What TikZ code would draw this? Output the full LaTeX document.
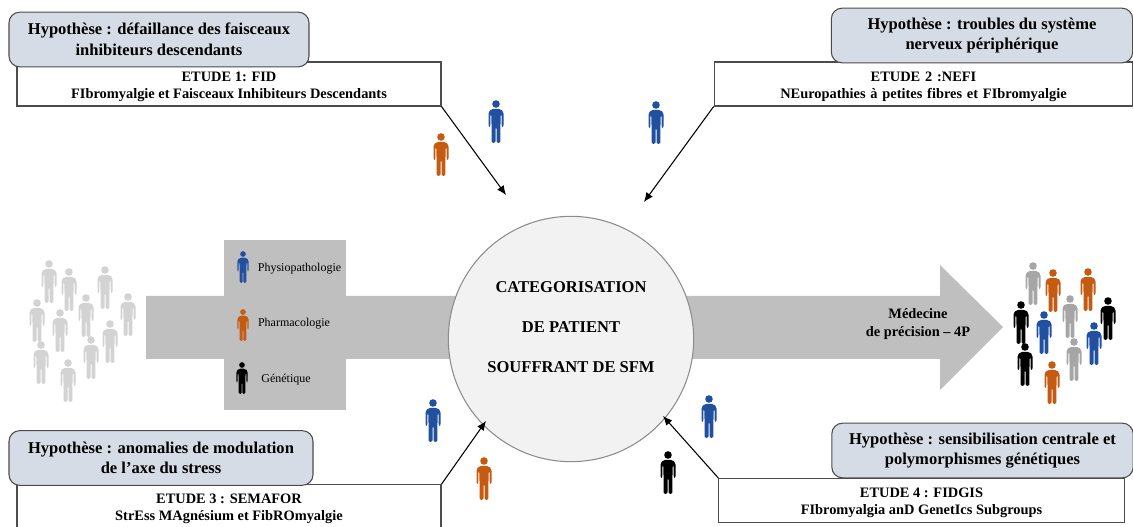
\documentclass[tikz,border=0pt]{standalone}
\usepackage{fontspec}
\setmainfont{Liberation Serif}
\usepackage{tikz}
\usetikzlibrary{arrows.meta}
\definecolor{pblue}{HTML}{2150A0}
\definecolor{porange}{HTML}{C55A11}
\definecolor{pgrey}{HTML}{A6A6A6}
\definecolor{plight}{HTML}{D3D3D3}
\definecolor{hypo}{HTML}{D6DCE5}
\definecolor{flow}{HTML}{BFBFBF}
\tikzstyle{hypothese} = [draw=black!70,thick,fill=hypo,rounded corners=8pt,align=center,inner sep=0pt,font=\fontsize{12.4}{15.5}\selectfont\bfseries]
\tikzstyle{etude} = [draw=black!70,thick,fill=white,align=center,inner sep=0pt,font=\fontsize{10.8}{13}\selectfont\bfseries]
\tikzstyle{soustype} = [font=\fontsize{9}{10}\selectfont]
\tikzset{person/.pic={
    \path[pic actions] (0,0) circle (3.8);
    \path[pic actions,rounded corners=1.2pt] (-4.5,5) -- (4.5,5) -- (7.5,8) -- (7.5,23) -- (5.7,23) -- (5.7,10) -- (4.8,10) -- (4.4,23)
        -- (4.4,39) -- (0.5,39) -- (0.5,23) -- (-0.5,23) -- (-0.5,39) -- (-4.4,39) -- (-4.4,23) -- (-4.8,10) -- (-5.7,10) -- (-5.7,23) -- (-7.5,23) -- (-7.5,8) -- cycle;
}}

\begin{document}
\begin{tikzpicture}[>={Latex[length=7pt,width=6pt]},x=0.75pt,y=-0.75pt]
    \useasboundingbox (0,0) rectangle (1133,527);

% Draw flow arrow and categories
    \fill[flow] (146,296) -- (940,296) -- (940,265) -- (1003,327) -- (940,390) -- (940,359) -- (146,359) -- cycle;
    \fill[flow] (224,240) rectangle (346,410);
    \node[font=\fontsize{10.8}{13.5}\selectfont\bfseries,align=center] at (918,324) (medecine) {Médecine\hspace{10pt}\\de précision -- 4P};
    \node[soustype] at (299.5,269) (physio) {Physiopathologie};
    \node[soustype] at (294,324) (pharma) {Pharmacologie};
    \node[soustype] at (286,380) (gene) {Génétique};
    \pic[fill=pblue,scale=.75] at (243,254) {person};
    \pic[fill=porange,scale=.75] at (243,312) {person};
    \pic[fill=black,scale=.75] at (242,365) {person};

    \node[circle,draw=black!45,thick,fill=black!5,minimum size=184pt,inner sep=0pt] at (571,339) (categ) {};
    \node[font=\fontsize{12.4}{30}\selectfont\bfseries,align=center] at (571,327) (categtxt) {CATEGORISATION\\DE PATIENT\\SOUFFRANT DE SFM};

% Hypotheses and studies
    \node[etude,minimum width=318pt,minimum height=33pt] at (229,84) (etude1) {\rule{0pt}{11pt}ETUDE 1: FID\\FIbromyalgie et Faisceaux Inhibiteurs Descendants};
    \node[hypothese,minimum width=225pt,minimum height=41pt] at (159,39.5) (hypo1) {Hypothèse : défaillance des faisceaux\\inhibiteurs descendants};
    \node[etude,minimum width=314pt,minimum height=33pt,text width=310pt] at (923.5,84) (etude2) {\rule{0pt}{11pt}ETUDE 2 :NEFI\hspace{4pt}\\NEuropathies à petites fibres et FIbromyalgie\hspace{4pt}};
    \node[hypothese,minimum width=226pt,minimum height=41pt] at (982,35.5) (hypo2) {Hypothèse : troubles du système\\nerveux périphérique};
    \node[etude,minimum width=318pt,minimum height=32pt] at (229,506) (etude3) {\rule{0pt}{11pt}ETUDE 3 : SEMAFOR\\StrEss MAgnésium et FibROmyalgie};
    \node[hypothese,minimum width=228pt,minimum height=41pt] at (161,458) (hypo3) {Hypothèse : anomalies de modulation\\de l’axe du stress};
    \node[etude,minimum width=304pt,minimum height=33pt] at (921.5,500.5) (etude4) {\rule{0pt}{11pt}ETUDE 4 : FIDGIS\\FIbromyalgia anD GenetIcs Subgroups};
    \node[hypothese,minimum width=226pt,minimum height=41pt] at (982.5,450.5) (hypo4) {Hypothèse : sensibilisation centrale et\\polymorphismes génétiques};

    \coordinate (fin1) at (506,195);
    \coordinate (fin2) at (644,202);
    \coordinate (fin3) at (486,421);
    \coordinate (fin4) at (663,416);
    \draw[->,thick] (etude1.south east) -- (fin1);
    \draw[->,thick] (etude2.south west) -- (fin2);
    \draw[->,thick] (etude3.north east) -- (fin3);
    \draw[->,thick] (etude4.north west) -- (fin4);

% People next to the arrows
    \pic[fill=pblue] at (496,104) {person};
    \pic[fill=porange] at (441,137) {person};
    \pic[fill=pblue] at (656,105) {person};
    \pic[fill=pblue] at (433,403) {person};
    \pic[fill=porange] at (484,461) {person};
    \pic[fill=pblue] at (709,399) {person};
    \pic[fill=black] at (668,455) {person};

% Crowd on the left
    \pic[fill=plight] at (49,264) {person};
    \pic[fill=plight] at (69,272) {person};
    \pic[fill=plight] at (105,270) {person};
    \pic[fill=plight] at (37,303) {person};
    \pic[fill=plight] at (60,313) {person};
    \pic[fill=plight] at (86,298) {person};
    \pic[fill=plight] at (128,297) {person};
    \pic[fill=plight] at (41,345) {person};
    \pic[fill=plight] at (91,340) {person};
    \pic[fill=plight] at (110,324) {person};
    \pic[fill=plight] at (68,363) {person};

% Crowd on the right
    \pic[fill=pgrey] at (1033,266) {person};
    \pic[fill=porange] at (1053,273) {person};
    \pic[fill=porange] at (1088,272) {person};
    \pic[fill=pgrey] at (1070,299) {person};
    \pic[fill=black] at (1021,305) {person};
    \pic[fill=black] at (1108,301) {person};
    \pic[fill=pblue] at (1044,315) {person};
    \pic[fill=pblue] at (1094,326) {person};
    \pic[fill=black] at (1025,347) {person};
    \pic[fill=pgrey] at (1074,342) {person};
    \pic[fill=porange] at (1052,365) {person};

\end{tikzpicture}
\end{document}
